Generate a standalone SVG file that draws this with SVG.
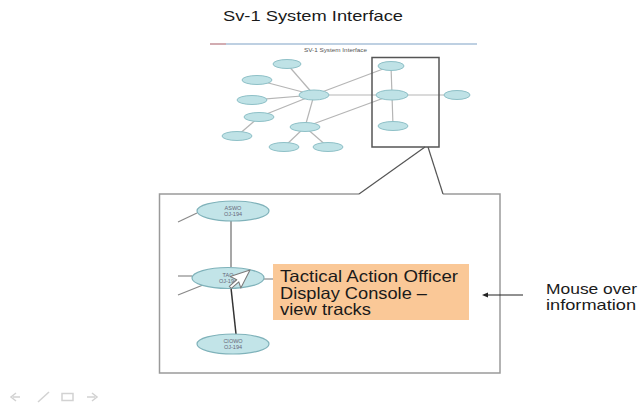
<svg xmlns="http://www.w3.org/2000/svg" width="642" height="406" viewBox="0 0 642 406">
<style>
.t{font-family:"Liberation Sans",Arial,sans-serif;fill:#1a1a1a}
.me{fill:#bfe2e6;stroke:#8ec0c7;stroke-width:1}
.ml{stroke:#b5b5b5;stroke-width:1.2;fill:none}
.ze{fill:#c2e4e8;stroke:#7fb2ba;stroke-width:1.2}
.zl{font-family:"Liberation Sans",Arial,sans-serif;font-size:5.5px;fill:#667;text-anchor:middle}
.ic{fill:none;stroke:#d2d2d2;stroke-width:1.5}
</style>
<rect width="642" height="406" fill="#ffffff"/>
<text class="t" x="223" y="21" font-size="15" textLength="180" lengthAdjust="spacingAndGlyphs">Sv-1 System Interface</text>

<g id="mini-diagram">
  <line x1="210" y1="44" x2="477" y2="44" stroke="#a9c1d9" stroke-width="1.5"/>
  <line x1="210" y1="44" x2="226" y2="44" stroke="#d9a0a0" stroke-width="1.5"/>
  <text x="304" y="51.5" font-family="Liberation Sans,Arial,sans-serif" font-size="5" fill="#555" textLength="63" lengthAdjust="spacingAndGlyphs">SV-1 System Interface</text>
  <g id="mini-edges">
    <line class="ml" x1="287" y1="64" x2="314" y2="95"/>
    <line class="ml" x1="257" y1="80" x2="314" y2="95"/>
    <line class="ml" x1="252" y1="100" x2="314" y2="95"/>
    <line class="ml" x1="259" y1="117" x2="314" y2="95"/>
    <line class="ml" x1="259" y1="117" x2="237" y2="136"/>
    <line class="ml" x1="305" y1="127" x2="314" y2="95"/>
    <line class="ml" x1="305" y1="127" x2="284" y2="147"/>
    <line class="ml" x1="305" y1="127" x2="328" y2="147"/>
    <line class="ml" x1="314" y1="95" x2="391" y2="66"/>
    <line class="ml" x1="314" y1="95" x2="392" y2="95"/>
    <line class="ml" x1="305" y1="127" x2="392" y2="95"/>
    <line class="ml" x1="392" y1="95" x2="457" y2="95"/>
    <line class="ml" x1="391" y1="66" x2="392" y2="95"/>
    <line class="ml" x1="392" y1="95" x2="393" y2="126"/>
  </g>
  <g id="mini-nodes">
    <ellipse class="me" cx="287" cy="64" rx="14" ry="4.5"/>
    <ellipse class="me" cx="257" cy="80" rx="15" ry="4.5"/>
    <ellipse class="me" cx="252" cy="100" rx="15" ry="4.5"/>
    <ellipse class="me" cx="259" cy="117" rx="15" ry="4.5"/>
    <ellipse class="me" cx="237" cy="136" rx="15" ry="4.5"/>
    <ellipse class="me" cx="314" cy="95" rx="15" ry="5"/>
    <ellipse class="me" cx="305" cy="127" rx="15" ry="4.5"/>
    <ellipse class="me" cx="284" cy="147" rx="15" ry="4.5"/>
    <ellipse class="me" cx="328" cy="147" rx="15" ry="4.5"/>
    <ellipse class="me" cx="391" cy="66" rx="13" ry="4.5"/>
    <ellipse class="me" cx="392" cy="95" rx="16" ry="5"/>
    <ellipse class="me" cx="393" cy="126" rx="15" ry="4.5"/>
    <ellipse class="me" cx="457" cy="95" rx="13" ry="4.5"/>
  </g>
  <rect x="372" y="57.5" width="67" height="89.5" fill="none" stroke="#555" stroke-width="1.5"/>
</g>

<g id="callout">
  <path d="M359,194 L159.5,194 L159.5,373 L500,373 L500,194 L443,194" fill="none" stroke="#9a9a9a" stroke-width="1.5"/>
  <line x1="359" y1="194" x2="425" y2="147" stroke="#555" stroke-width="1.2"/>
  <line x1="443" y1="194" x2="428" y2="147" stroke="#555" stroke-width="1.2"/>
</g>

<g id="connectors">
  <line x1="231" y1="221" x2="231" y2="267" stroke="#8a8a8a" stroke-width="1.5"/>
  <line x1="231" y1="288" x2="236" y2="334" stroke="#333" stroke-width="1.5"/>
  <line x1="178" y1="222" x2="197" y2="213" stroke="#8a8a8a" stroke-width="1.2"/>
  <line x1="178" y1="276" x2="192" y2="276" stroke="#8a8a8a" stroke-width="1.2"/>
  <line x1="178" y1="295" x2="203" y2="285" stroke="#8a8a8a" stroke-width="1.2"/>
  <line x1="264" y1="279" x2="273" y2="279" stroke="#8a8a8a" stroke-width="1.2"/>
</g>

<g id="node-aswo">
  <ellipse class="ze" cx="233" cy="211" rx="36" ry="10"/>
  <text class="zl" x="233" y="209.5">ASWO</text>
  <text class="zl" x="233" y="215.5">OJ-194</text>
</g>
<g id="node-tao">
  <ellipse class="ze" cx="228" cy="278" rx="36" ry="10.5"/>
  <text class="zl" x="228" y="276.5">TAO</text>
  <text class="zl" x="228" y="282.5">OJ-194</text>
</g>
<g id="node-ciowo">
  <ellipse class="ze" cx="233" cy="344" rx="36" ry="10"/>
  <text class="zl" x="233" y="342.5">CIOWO</text>
  <text class="zl" x="233" y="348.5">OJ-194</text>
</g>

<g id="cursor">
  <polygon transform="translate(250,270) rotate(72) scale(1.3)" points="0,0 0,16 4,12 7,19 9,18 6,11 11,11" fill="#ffffff" stroke="#7a7a7a" stroke-width="0.8" stroke-linejoin="round"/>
</g>

<g id="tooltip">
  <rect x="273" y="264" width="196" height="56" fill="#fac897"/>
  <text class="t" x="280" y="282" font-size="16.5" textLength="178" lengthAdjust="spacingAndGlyphs">Tactical Action Officer</text>
  <text class="t" x="280" y="298.5" font-size="16.5" textLength="147" lengthAdjust="spacingAndGlyphs">Display Console –</text>
  <text class="t" x="280" y="315" font-size="16.5" textLength="91" lengthAdjust="spacingAndGlyphs">view tracks</text>
</g>

<g id="mouse-over-note">
  <line x1="523" y1="295" x2="486" y2="295" stroke="#222" stroke-width="1"/>
  <polygon points="482,295 488,292.5 488,297.5" fill="#222"/>
  <text class="t" x="546" y="294" font-size="15" textLength="91" lengthAdjust="spacingAndGlyphs">Mouse over</text>
  <text class="t" x="546" y="310" font-size="15" textLength="90" lengthAdjust="spacingAndGlyphs">information</text>
</g>

<g id="footer-icons">
  <path class="ic" d="M20,397 L13,397 M16,393 L11,397 L16,401"/>
  <path class="ic" d="M38,402 L49,392"/>
  <rect class="ic" x="62" y="393.5" width="11" height="7"/>
  <path class="ic" d="M87,397 L95,397 M92,393 L97,397 L92,401"/>
</g>
</svg>
